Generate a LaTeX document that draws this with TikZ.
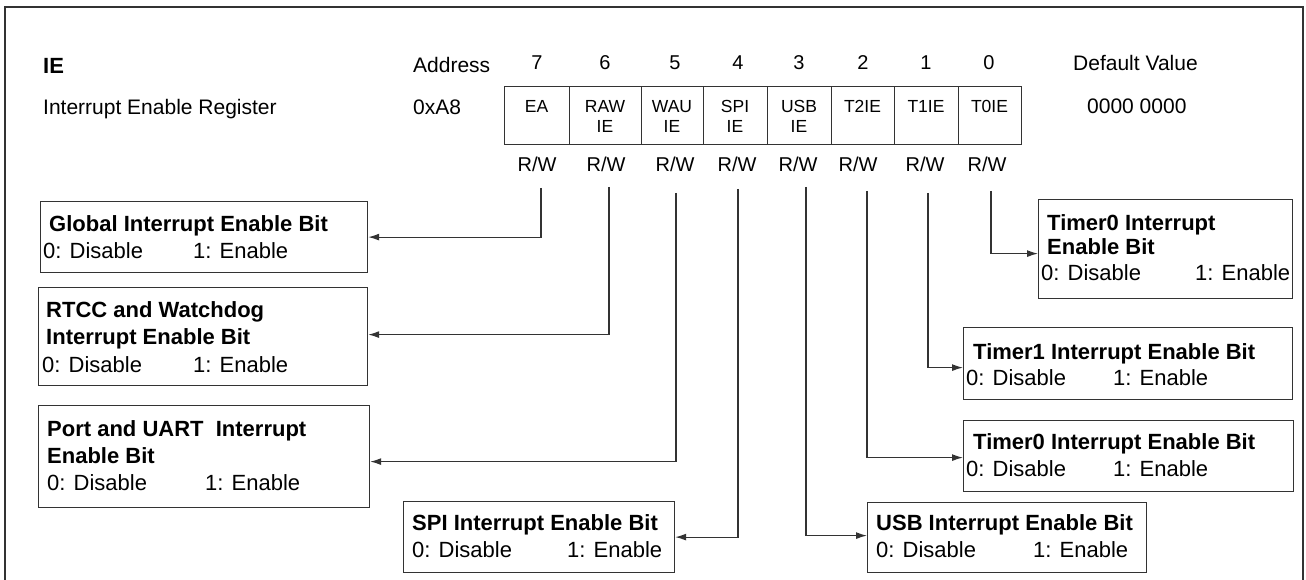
\documentclass[tikz,border=0pt]{standalone}
\usepackage{fontspec}
\setmainfont{Liberation Sans}
\usetikzlibrary{arrows.meta}

\tikzset{
  ln/.style={draw=black!80, line width=1.2pt},
  cell/.style={ln, rectangle, inner sep=0pt, anchor=north west, minimum height=58pt},
  infobox/.style={ln, rectangle, inner sep=0pt, anchor=north west},
  txt/.style={inner sep=0pt, anchor=base west, font=\fontsize{22}{26}\selectfont},
  ttl/.style={inner sep=0pt, anchor=base west, font=\fontsize{22}{26}\selectfont\bfseries},
  hdr/.style={inner sep=0pt, anchor=base west, font=\fontsize{21}{25}\selectfont},
  num/.style={inner sep=0pt, anchor=base, font=\fontsize{20}{24}\selectfont},
  celltxt/.style={inner sep=0pt, anchor=base, font=\fontsize{17.5}{20}\selectfont},
  link/.style={draw=black!80, line width=1.2pt, -{Latex[length=11pt,width=7pt]}},
}

\begin{document}
\begin{tikzpicture}[x=1pt,y=-1pt]
\useasboundingbox (0,0) rectangle (1306,580);

% outer frame (open at the bottom)
\draw[ln] (5,585) -- (5,7) -- (1303,7) -- (1303,585);

% register header
\node[ttl] (regname) at (43,74) {IE};
\node[hdr] (regdesc) at (43,115) {Interrupt Enable Register};
\node[hdr] (addrhd) at (413,73) {Address};
\node[hdr] (addr) at (413,115) {0xA8};
\node[hdr] (defhd) at (1073,71) {Default Value};
\node[hdr] (defval) at (1087,114) {0000 0000};

% register cells
\foreach \n/\x/\w in {7/504/65, 6/569/72, 5/641/62, 4/703/64, 3/767/64, 2/831/63, 1/894/64, 0/958/63}
  \node[cell, minimum width=\w pt] (c\n) at (\x,86) {};

% bit numbers and access
\foreach \n/\x in {7/537, 6/605, 5/675, 4/738, 3/799, 2/863, 1/926, 0/989}
  \node[num] (b\n) at (\x,70) {\n};
\foreach \n/\x in {7/537, 6/606, 5/675, 4/737, 3/798, 2/858, 1/925, 0/987}
  \node[num] (rw\n) at (\x,172) {R/W};

% cell names
\node[celltxt] (n7) at (536.5,113) {EA};
\node[celltxt] (n6a) at (605,113) {RAW};
\node[celltxt] (n6b) at (605,133) {IE};
\node[celltxt] (n5a) at (672,113) {WAU};
\node[celltxt] (n5b) at (672,133) {IE};
\node[celltxt] (n4a) at (735,113) {SPI};
\node[celltxt] (n4b) at (735,133) {IE};
\node[celltxt] (n3a) at (799,113) {USB};
\node[celltxt] (n3b) at (799,133) {IE};
\node[celltxt] (n2) at (862.5,113) {T2IE};
\node[celltxt] (n1) at (926,113) {T1IE};
\node[celltxt] (n0) at (989.5,113) {T0IE};

% description boxes
\node[infobox, minimum width=327pt, minimum height=71pt] (gie) at (40,201) {};
\node[infobox, minimum width=329pt, minimum height=98pt] (rtcc) at (38,287) {};
\node[infobox, minimum width=331pt, minimum height=102pt] (uart) at (38,405) {};
\node[infobox, minimum width=271pt, minimum height=71pt] (spi) at (403,501) {};
\node[infobox, minimum width=279pt, minimum height=70pt] (usb) at (867,502) {};
\node[infobox, minimum width=254pt, minimum height=99pt] (tmr0) at (1038,199) {};
\node[infobox, minimum width=329pt, minimum height=72pt] (tmr1) at (963,327) {};
\node[infobox, minimum width=330pt, minimum height=71pt] (tmr2) at (963,420) {};

% box texts
\node[ttl] (gieT) at (49,232) {Global Interrupt Enable Bit};
\node[txt] (gieD) at (43,258) {0: Disable};
\node[txt] (gieE) at (193,258) {1: Enable};

\node[ttl] (rtccT) at (46,317) {RTCC and Watchdog};
\node[ttl] (rtccU) at (46,344) {Interrupt Enable Bit};
\node[txt] (rtccD) at (42,372) {0: Disable};
\node[txt] (rtccE) at (193,372) {1: Enable};

\node[ttl] (uartT) at (47,436) {Port and UART\ \ Interrupt};
\node[ttl] (uartU) at (47,463) {Enable Bit};
\node[txt] (uartD) at (47,490) {0: Disable};
\node[txt] (uartE) at (205,490) {1: Enable};

\node[ttl] (spiT) at (412,530) {SPI Interrupt Enable Bit};
\node[txt] (spiD) at (412,557) {0: Disable};
\node[txt] (spiE) at (567,557) {1: Enable};

\node[ttl] (usbT) at (876,530) {USB Interrupt Enable Bit};
\node[txt] (usbD) at (876,557) {0: Disable};
\node[txt] (usbE) at (1033,557) {1: Enable};

\node[ttl] (tmr0T) at (1047,230) {Timer0 Interrupt};
\node[ttl] (tmr0U) at (1047,254) {Enable Bit};
\node[txt] (tmr0D) at (1041,280) {0: Disable};
\node[txt] (tmr0E) at (1195,280) {1: Enable};

\node[ttl] (tmr1T) at (973,359) {Timer1 Interrupt Enable Bit};
\node[txt] (tmr1D) at (966,385) {0: Disable};
\node[txt] (tmr1E) at (1113,385) {1: Enable};

\node[ttl] (tmr2T) at (973,449) {Timer0 Interrupt Enable Bit};
\node[txt] (tmr2D) at (966,476) {0: Disable};
\node[txt] (tmr2E) at (1113,476) {1: Enable};

% connector origins under the access labels
\coordinate (s7) at (541,188);
\coordinate (s6) at (609,187);
\coordinate (s5) at (676,193);
\coordinate (s4) at (738,189);
\coordinate (s3) at (806,187);
\coordinate (s2) at (867,191);
\coordinate (s1) at (928,193);
\coordinate (s0) at (991,191);

% connectors
\draw[link] (s7) |- (gie.east);
\draw[link] (s6) |- ([yshift=2pt]rtcc.east);
\draw[link] (s5) |- ([yshift=-5pt]uart.east);
\draw[link] (s4) |- (spi.east);
\draw[link] (s3) |- ([yshift=2pt]usb.west);
\draw[link] (s2) |- ([yshift=-1.5pt]tmr2.west);
\draw[link] (s1) |- ([yshift=-4pt]tmr1.west);
\draw[link] (s0) |- ([yshift=-4.5pt]tmr0.west);
\end{tikzpicture}
\end{document}
